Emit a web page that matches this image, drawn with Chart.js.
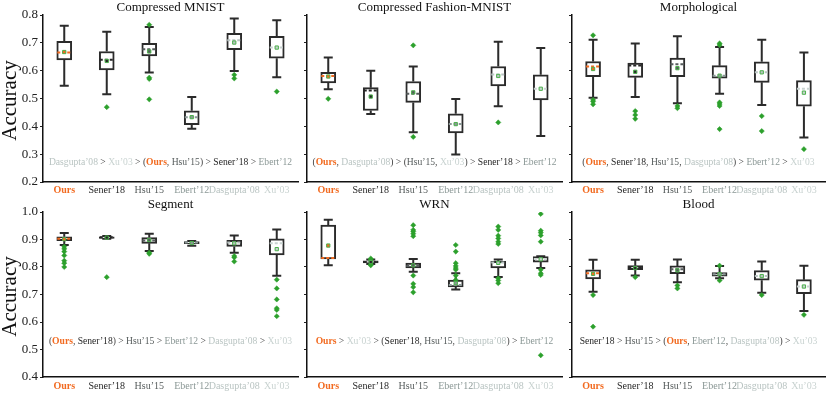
<!DOCTYPE html>
<html>
<head>
<meta charset="utf-8">
<script src="https://cdn.jsdelivr.net/npm/chart.js@4/dist/chart.umd.min.js"></script>
<style>
body { margin: 0; background: #fff; }
#wrap { position: relative; width: 830px; height: 393px; overflow: hidden; }
canvas { position: absolute; }
</style>
</head>
<body>
<div id="wrap">
  <canvas id="c1" width="303" height="196" style="left:0;top:0"></canvas>
  <canvas id="c2" width="303" height="196" style="left:264px;top:0"></canvas>
  <canvas id="c3" width="301" height="196" style="left:529px;top:0"></canvas>
  <canvas id="c4" width="303" height="196" style="left:0;top:197px"></canvas>
  <canvas id="c5" width="303" height="196" style="left:264px;top:197px"></canvas>
  <canvas id="c6" width="301" height="196" style="left:529px;top:197px"></canvas>
</div>
<script>
var categories = ['Ours', 'Sener’18', 'Hsu’15', 'Ebert’12', 'Dasgupta’08', 'Xu’03'];
var catColors = ['#f26b21', '#262626', '#565c5c', '#8b9896', '#b9c4c2', '#c9d3d1'];

// each box: [whisker low, q1, median, q3, whisker high]
var mnistBox = [
    [0.546, 0.639, 0.665, 0.705, 0.761],
    [0.515, 0.603, 0.639, 0.669, 0.740],
    [0.593, 0.653, 0.677, 0.698, 0.757],
    [0.391, 0.406, 0.433, 0.456, 0.505],
    [0.599, 0.675, 0.709, 0.734, 0.787],
    [0.576, 0.645, 0.683, 0.723, 0.781]];
var mnistMean = [0.667, 0.635, 0.669, 0.433, 0.701, 0.683];
var mnistOut = [[], [0.469], [0.765, 0.575, 0.570, 0.497], [], [0.585, 0.572], [0.525]];

var fashionBox = [
    [0.533, 0.556, 0.581, 0.594, 0.647],
    [0.444, 0.457, 0.529, 0.539, 0.600],
    [0.379, 0.486, 0.517, 0.561, 0.615],
    [0.299, 0.376, 0.408, 0.445, 0.498],
    [0.472, 0.545, 0.586, 0.615, 0.704],
    [0.365, 0.495, 0.535, 0.585, 0.681]];
var fashionMean = [0.579, 0.507, 0.522, 0.408, 0.581, 0.535];
var fashionOut = [[0.499], [], [0.691, 0.362], [], [0.414], []];

var morphBox = [
    [0.503, 0.578, 0.615, 0.633, 0.711],
    [0.505, 0.576, 0.619, 0.627, 0.698],
    [0.483, 0.578, 0.623, 0.645, 0.724],
    [0.517, 0.573, 0.582, 0.618, 0.685],
    [0.477, 0.558, 0.594, 0.632, 0.711],
    [0.360, 0.472, 0.535, 0.564, 0.665]];
var morphMean = [0.606, 0.596, 0.609, 0.582, 0.594, 0.521];
var morphOut = [[0.727, 0.495, 0.489, 0.479], [0.455, 0.441, 0.427], [0.473, 0.465],
    [0.698, 0.692, 0.486, 0.480, 0.473, 0.390], [0.437, 0.383], [0.318]];

var segBox = [
    [0.880, 0.896, 0.903, 0.910, 0.924],
    [0.903, 0.904, 0.908, 0.910, 0.913],
    [0.858, 0.886, 0.896, 0.907, 0.921],
    [0.877, 0.885, 0.889, 0.892, 0.895],
    [0.852, 0.875, 0.889, 0.897, 0.915],
    [0.768, 0.844, 0.886, 0.902, 0.936]];
var segMean = [0.901, 0.907, 0.898, 0.887, 0.886, 0.865];
var segOut = [[0.874, 0.866, 0.856, 0.842, 0.823, 0.814, 0.800], [0.763], [0.852, 0.848], [],
    [0.840, 0.835, 0.820], [0.754, 0.722, 0.682, 0.650, 0.644, 0.621]];

var wrnBox = [
    [0.806, 0.829, 0.833, 0.952, 0.972],
    [0.811, 0.815, 0.818, 0.822, 0.827],
    [0.783, 0.797, 0.804, 0.814, 0.829],
    [0.718, 0.728, 0.735, 0.752, 0.777],
    [0.764, 0.797, 0.816, 0.821, 0.827],
    [0.796, 0.818, 0.829, 0.838, 0.839]];
var wrnMean = [0.878, 0.818, 0.806, 0.741, 0.815, 0.828];
var wrnOut = [[], [0.831, 0.826, 0.809, 0.806],
    [0.952, 0.935, 0.929, 0.921, 0.912, 0.769, 0.739, 0.727, 0.708],
    [0.880, 0.856, 0.814, 0.804, 0.796, 0.790, 0.769, 0.753],
    [0.947, 0.935, 0.914, 0.904, 0.892, 0.884, 0.759, 0.751, 0.741],
    [0.993, 0.932, 0.925, 0.915, 0.892, 0.790, 0.777, 0.771, 0.479]];

var bloodBox = [
    [0.710, 0.757, 0.777, 0.790, 0.826],
    [0.769, 0.790, 0.796, 0.805, 0.826],
    [0.745, 0.776, 0.792, 0.804, 0.827],
    [0.759, 0.767, 0.774, 0.780, 0.804],
    [0.706, 0.752, 0.767, 0.787, 0.820],
    [0.640, 0.703, 0.729, 0.754, 0.805]];
var bloodMean = [0.775, 0.796, 0.788, 0.774, 0.767, 0.729];
var bloodOut = [[0.698, 0.583], [0.763], [0.733, 0.722], [0.805, 0.751], [0.698], [0.626]];

// ranking captions: number = category index, string = connector text
var mnistRank = [4, ' > ', 5, ' > (', 0, ', ', 2, ') > ', 1, ' > ', 3];
var fashionRank = ['(', 0, ', ', 4, ') > (', 2, ', ', 5, ') > ', 1, ' > ', 3];
var morphRank = ['(', 0, ', ', 1, ', ', 2, ', ', 4, ') > ', 3, ' > ', 5];
var segRank = ['(', 0, ', ', 1, ') > ', 2, ' > ', 3, ' > ', 4, ' > ', 5];
var wrnRank = [0, ' > ', 5, ' > (', 1, ', ', 2, ', ', 4, ') > ', 3];
var bloodRank = [1, ' > ', 2, ' > (', 0, ', ', 3, ', ', 4, ') > ', 5];

var topTicks = [0.2, 0.8];
var bottomTicks = [0.4, 1.0];

var serif = "'Liberation Serif', 'DejaVu Serif', serif";
var edge = '#2b2b2b';
var green = '#2ca02c';

function boxPlugin(p) {
    return {
        id: 'boxes',
        beforeDatasetsDraw: function (chart) {
            var ctx = chart.ctx, x = chart.scales.x, y = chart.scales.y;
            ctx.save();
            ctx.strokeStyle = edge;
            ctx.lineWidth = 2;
            p.box.forEach(function (b, i) {
                var cx = x.getPixelForValue(i);
                var lo = y.getPixelForValue(b[0]), hi = y.getPixelForValue(b[4]);
                ctx.beginPath();
                ctx.moveTo(cx, lo); ctx.lineTo(cx, y.getPixelForValue(b[1]));
                ctx.moveTo(cx, hi); ctx.lineTo(cx, y.getPixelForValue(b[3]));
                ctx.moveTo(cx - 4.5, lo); ctx.lineTo(cx + 4.5, lo);
                ctx.moveTo(cx - 4.5, hi); ctx.lineTo(cx + 4.5, hi);
                ctx.stroke();
            });
            ctx.restore();
        },
        afterDatasetDraw: function (chart, args) {
            if (args.index !== 0) return;
            var ctx = chart.ctx, x = chart.scales.x, y = chart.scales.y;
            ctx.save();
            ctx.lineWidth = 2;
            ctx.setLineDash([3, 2]);
            p.box.forEach(function (b, i) {
                var cx = x.getPixelForValue(i), my = y.getPixelForValue(b[2]);
                ctx.strokeStyle = catColors[i];
                ctx.beginPath();
                ctx.moveTo(cx - 7, my); ctx.lineTo(cx + 7, my);
                ctx.stroke();
            });
            ctx.restore();
        },
        afterDraw: function (chart) {
            var ctx = chart.ctx, area = chart.chartArea, y = chart.scales.y;
            var mid = (area.left + area.right) / 2;
            ctx.save();
            ctx.textBaseline = 'middle';
            ctx.textAlign = 'center';
            ctx.fillStyle = '#111';
            ctx.font = '13px ' + serif;
            ctx.fillText(p.title, mid, area.top - 7);
            if (p.yLabel) {
                ctx.save();
                ctx.translate(10, (area.top + area.bottom) / 2 + 2);
                ctx.rotate(-Math.PI / 2);
                ctx.font = '21px ' + serif;
                ctx.fillText('Accuracy', 0, 0);
                ctx.restore();
            }
            // ranking caption
            var parts = p.rank.map(function (r) {
                var isCat = typeof r === 'number';
                return {
                    text: isCat ? categories[r] : r,
                    color: isCat ? catColors[r] : '#444',
                    font: (isCat && r === 0 ? 'bold ' : '') + '9.6px ' + serif
                };
            });
            var total = 0;
            parts.forEach(function (s) { ctx.font = s.font; s.w = ctx.measureText(s.text).width; total += s.w; });
            var tx = mid - total / 2, ty = y.getPixelForValue(p.rankAt);
            ctx.textAlign = 'left';
            parts.forEach(function (s) {
                ctx.font = s.font;
                ctx.fillStyle = s.color;
                ctx.fillText(s.text, tx, ty);
                tx += s.w;
            });
            ctx.restore();
        }
    };
}

function makePanel(id, p) {
    var outliers = [];
    p.out.forEach(function (list, i) {
        list.forEach(function (v) { outliers.push({ x: categories[i], y: v }); });
    });
    new Chart(document.getElementById(id), {
        type: 'bar',
        data: {
            labels: categories,
            datasets: [{
                data: p.box.map(function (b) { return [b[1], b[3]]; }),
                backgroundColor: '#fff',
                borderColor: edge,
                borderWidth: 2,
                borderSkipped: false,
                barThickness: 15,
                order: 3
            }, {
                type: 'line',
                data: outliers,
                showLine: false,
                pointStyle: 'rectRot',
                pointRadius: 2.6,
                pointBackgroundColor: green,
                pointBorderColor: green,
                pointBorderWidth: 0.5,
                order: 2
            }, {
                type: 'line',
                data: p.mean,
                showLine: false,
                pointStyle: 'rect',
                pointRadius: 2.3,
                pointBackgroundColor: catColors,
                pointBorderColor: '#4cb04c',
                pointBorderWidth: 1,
                order: 1
            }]
        },
        options: {
            responsive: false,
            animation: false,
            layout: { padding: { top: 15, right: 2, left: 0, bottom: 0 } },
            plugins: { legend: { display: false }, tooltip: { enabled: false } },
            scales: {
                x: {
                    offset: true,
                    grid: { display: false, drawTicks: false },
                    border: { display: true, color: '#111', width: 1.5 },
                    ticks: {
                        padding: p.xPad,
                        maxRotation: 0,
                        autoSkip: false,
                        color: function (c) { return catColors[c.index]; },
                        font: function (c) { return { family: serif, size: 10, weight: c.index === 0 ? 'bold' : 'normal' }; }
                    },
                    afterFit: function (s) { s.height = p.xHeight; }
                },
                y: {
                    min: p.range[0],
                    max: p.range[1],
                    grid: { display: true, drawOnChartArea: false, drawTicks: true, tickLength: 3, tickColor: '#222', tickWidth: 1.2 },
                    border: { display: true, color: '#111', width: 1.5 },
                    ticks: {
                        display: p.yLabel,
                        stepSize: 0.1,
                        padding: 2,
                        color: '#222',
                        font: { family: serif, size: 13 },
                        callback: function (v) { return v.toFixed(1); }
                    },
                    afterFit: function (s) { s.width = 43; }
                }
            }
        },
        plugins: [boxPlugin(p)]
    });
}

makePanel('c1', { title: 'Compressed MNIST', box: mnistBox, mean: mnistMean, out: mnistOut, rank: mnistRank, rankAt: 0.27, range: topTicks, yLabel: true, xHeight: 14, xPad: 2 });
makePanel('c2', { title: 'Compressed Fashion-MNIST', box: fashionBox, mean: fashionMean, out: fashionOut, rank: fashionRank, rankAt: 0.27, range: topTicks, yLabel: false, xHeight: 14, xPad: 2 });
makePanel('c3', { title: 'Morphological', box: morphBox, mean: morphMean, out: morphOut, rank: morphRank, rankAt: 0.27, range: topTicks, yLabel: false, xHeight: 14, xPad: 2 });
makePanel('c4', { title: 'Segment', box: segBox, mean: segMean, out: segOut, rank: segRank, rankAt: 0.53, range: bottomTicks, yLabel: true, xHeight: 16, xPad: 3 });
makePanel('c5', { title: 'WRN', box: wrnBox, mean: wrnMean, out: wrnOut, rank: wrnRank, rankAt: 0.53, range: bottomTicks, yLabel: false, xHeight: 16, xPad: 3 });
makePanel('c6', { title: 'Blood', box: bloodBox, mean: bloodMean, out: bloodOut, rank: bloodRank, rankAt: 0.53, range: bottomTicks, yLabel: false, xHeight: 16, xPad: 3 });
</script>
</body>
</html>
